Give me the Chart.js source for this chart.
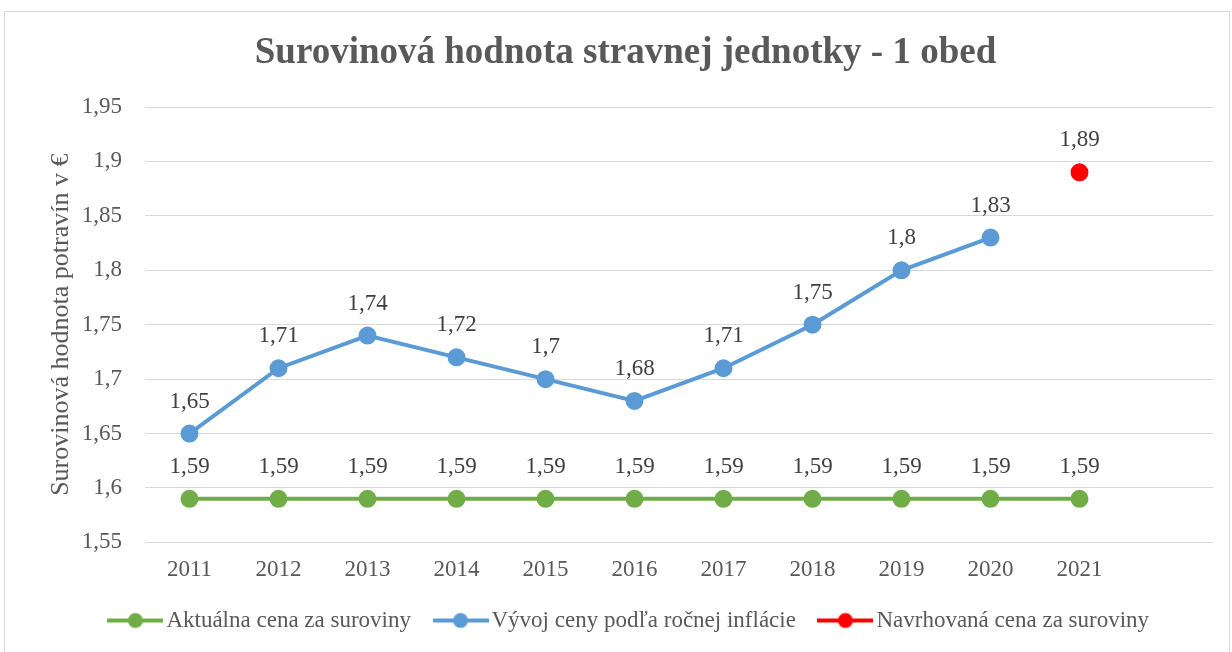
<!DOCTYPE html>
<html>
<head>
<meta charset="utf-8">
<script src="https://cdn.jsdelivr.net/npm/chart.js@4/dist/chart.umd.min.js"></script>
<style>
  html, body { margin: 0; padding: 0; background: #fff; }
  #wrap { position: relative; width: 1232px; height: 652px; overflow: hidden; }
  #frame { position: absolute; left: 4px; top: 11px; width: 1226px; height: 700px; border: 1px solid #d9d9d9; box-sizing: border-box; }
  #box { position: absolute; left: 0; top: 0; width: 1232px; height: 652px; }
</style>
</head>
<body>
<div id="wrap">
  <div id="frame"></div>
  <div id="box"><canvas id="GraficoSuroviny"></canvas></div>
</div>
<script>
// roky (posledna kategoria je prazdna)
var roky = ["2011", "2012", "2013", "2014", "2015", "2016", "2017", "2018", "2019", "2020", "2021", ""];
var aktualnaCena = [1.59, 1.59, 1.59, 1.59, 1.59, 1.59, 1.59, 1.59, 1.59, 1.59, 1.59, null];
var vyvojCeny = [1.65, 1.71, 1.74, 1.72, 1.70, 1.68, 1.71, 1.75, 1.80, 1.83, null, null];
var navrhovanaCena = [null, null, null, null, null, null, null, null, null, null, 1.89, null];
var osY = { min: 1.55, max: 1.95, krok: 0.05 };
var farby = ["#70ad47", "#5b9bd5", "#ff0000"];

var pismo = "'Liberation Serif', 'Times New Roman', serif";

function cislo(v) {
    return String(+Number(v).toFixed(2)).replace('.', ',');
}

// znacka do legendy: ciara s bodkou
function znacka(farba) {
    var c = document.createElement('canvas');
    c.width = 56; c.height = 18;
    var ctx = c.getContext('2d');
    ctx.strokeStyle = farba;
    ctx.lineWidth = 4;
    ctx.beginPath();
    ctx.moveTo(0, 9);
    ctx.lineTo(56, 9);
    ctx.stroke();
    ctx.fillStyle = farba;
    ctx.beginPath();
    ctx.arc(28, 9, 7.5, 0, Math.PI * 2);
    ctx.fill();
    return c;
}

var popisky = {
    id: 'popisky',
    afterDatasetsDraw: function (chart) {
        var ctx = chart.ctx;
        ctx.save();
        ctx.font = "23px " + pismo;
        ctx.fillStyle = "#404040";
        ctx.textAlign = "center";
        ctx.textBaseline = "middle";
        chart.data.datasets.forEach(function (ds, i) {
            var meta = chart.getDatasetMeta(i);
            meta.data.forEach(function (bod, j) {
                var v = ds.data[j];
                if (v === null || v === undefined) return;
                ctx.fillText(cislo(v), bod.x, bod.y - 32);
            });
        });
        ctx.restore();
    }
};

// posun nadpisu a legendy tak, ako je v grafe z Excelu
var posun = {
    id: 'posun',
    afterLayout: function (chart) {
        var t = chart.titleBlock;
        t.left += 19;
        t.right += 19;
        var l = chart.legend;
        l.left += 26;
        l.right += 26;
        l.top -= 19;
    }
};

new Chart(document.getElementById("GraficoSuroviny"), {
    type: 'line',
    data: {
        labels: roky,
        datasets: [{
            label: "Aktuálna cena za suroviny",
            data: aktualnaCena,
            borderColor: farby[0],
            backgroundColor: farby[0],
            borderWidth: 4,
            pointRadius: 7,
            pointHoverRadius: 7
        }, {
            label: "Vývoj ceny podľa ročnej inflácie",
            data: vyvojCeny,
            borderColor: farby[1],
            backgroundColor: farby[1],
            borderWidth: 4,
            pointRadius: 7,
            pointHoverRadius: 7
        }, {
            label: "Navrhovaná cena za suroviny",
            data: navrhovanaCena,
            borderColor: farby[2],
            backgroundColor: farby[2],
            borderWidth: 4,
            pointRadius: 7,
            pointHoverRadius: 7
        }]
    },
    options: {
        responsive: true,
        maintainAspectRatio: false,
        animation: false,
        layout: { padding: { left: 0, right: 19, top: 0, bottom: 8 } },
        elements: { point: { pointStyle: 'circle' }, line: { tension: 0 } },
        plugins: {
            title: {
                display: true,
                text: "Surovinová hodnota stravnej jednotky - 1 obed",
                color: "#595959",
                font: { family: pismo, size: 37, weight: 'bold' },
                padding: { top: 31, bottom: 31.6 }
            },
            legend: {
                position: 'bottom',
                maxHeight: 46,
                labels: {
                    usePointStyle: true,
                    pointStyleWidth: 39,
                    color: "#595959",
                    font: { family: pismo, size: 23 },
                    padding: 30,
                    generateLabels: function (chart) {
                        return Chart.defaults.plugins.legend.labels.generateLabels(chart).map(function (l, i) {
                            l.pointStyle = znacka(farby[i]);
                            return l;
                        });
                    }
                }
            },
            tooltip: { enabled: false }
        },
        scales: {
            x: {
                offset: true,
                grid: { display: false, drawTicks: false },
                border: { display: false },
                ticks: { color: "#595959", font: { family: pismo, size: 23 }, padding: 14, maxRotation: 0, autoSkip: false }
            },
            y: {
                min: osY.min,
                max: osY.max,
                afterFit: function (s) { s.width = 145; },
                grid: { color: "#d9d9d9", lineWidth: 1, drawTicks: false },
                border: { display: false },
                ticks: {
                    stepSize: osY.krok,
                    color: "#595959",
                    font: { family: pismo, size: 23 },
                    padding: 23,
                    callback: function (v) { return cislo(v); }
                },
                title: {
                    display: true,
                    text: "Surovinová hodnota potravín v €",
                    color: "#595959",
                    font: { family: pismo, size: 26 },
                    padding: { top: 46, bottom: 0 }
                }
            }
        }
    },
    plugins: [popisky, posun]
});
</script>
</body>
</html>
